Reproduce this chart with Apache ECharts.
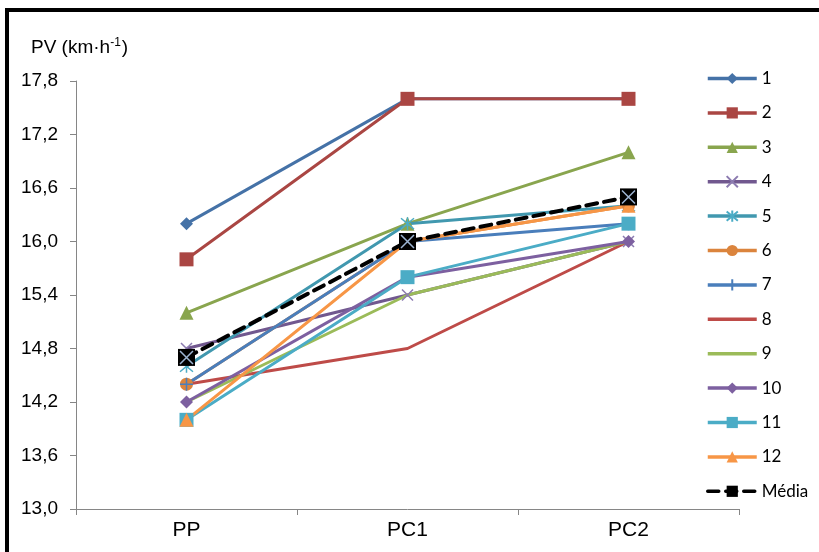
<!DOCTYPE html>
<html>
<head>
<meta charset="utf-8">
<script src="https://cdn.jsdelivr.net/npm/echarts@6/dist/echarts.min.js"></script>
<style>
html,body{margin:0;padding:0;background:#fff;}
#wrap{position:relative;width:819px;height:552px;overflow:hidden;}
#chart{position:absolute;left:0;top:0;width:819px;height:552px;}
#frame{position:absolute;left:5px;top:8px;width:900px;height:700px;border-left:4px solid #000;border-top:4px solid #000;pointer-events:none;}
</style>
</head>
<body>
<div id="wrap"><div id="chart"></div><div id="frame"></div></div>
<script>
const categories = ['PP', 'PC1', 'PC2'];
const yTicks = [13.0, 13.6, 14.2, 14.8, 15.4, 16.0, 16.6, 17.2, 17.8];

const s1 = [16.2, 17.6, 17.6];
const s2 = [15.8, 17.6, 17.6];
const s3 = [15.2, 16.2, 17.0];
const s4 = [14.8, 15.4, 16.0];
const s5 = [14.6, 16.2, 16.4];
const s6 = [14.4, 16.0, 16.4];
const s7 = [14.4, 16.0, 16.2];
const s8 = [14.4, 14.8, 16.0];
const s9 = [14.2, 15.4, 16.0];
const s10 = [14.2, 15.6, 16.0];
const s11 = [14.0, 15.6, 16.2];
const s12 = [14.0, 16.0, 16.4];
const media = [14.7, 16.0, 16.5];

const names = ['1','2','3','4','5','6','7','8','9','10','11','12'];
const values = [s1,s2,s3,s4,s5,s6,s7,s8,s9,s10,s11,s12];
const colors = ['#4572A7','#AA4643','#89A54E','#71588F','#4198AF','#DB843D','#4A7EBB','#BE4B48','#9BBB59','#7D60A0','#4BACC6','#F79646'];
const X = 'path://M0,0L10,10M10,0L0,10';
const STAR = 'path://M0,0L10,10M10,0L0,10M5,-1L5,11';
const PLUS = 'path://M5,0L5,10M0,5L10,5';
const symbols = ['diamond','rect','triangle',X,STAR,'circle',PLUS,'circle','circle','diamond','rect','triangle'];
const sizes = [13,14,14,11,13,13,13,1,1,13,14,14];
const strokeOnly = [false,false,false,true,true,false,true,false,false,false,false,false];
const hidden = [false,false,false,false,false,false,false,true,true,false,false,false];
const markerColors = ['#4572A7','#AA4643','#89A54E','#8C7BB0','#4BACC6','#DB843D','#4A7EBB','#BE4B48','#9BBB59','#7D60A0','#4BACC6','#F79646'];

const series = values.map((v, i) => ({
  name: names[i],
  type: 'line',
  data: v,
  symbol: symbols[i],
  symbolSize: sizes[i],
  lineStyle: { color: colors[i], width: 3 },
  itemStyle: strokeOnly[i]
    ? { color: markerColors[i], borderColor: markerColors[i], borderWidth: 1.5 }
    : { color: markerColors[i], borderWidth: 0, opacity: hidden[i] ? 0 : 1 },
  emphasis: { disabled: true },
  animation: false
}));

series.push({
  name: 'Média',
  type: 'line',
  data: media,
  symbol: 'rect',
  symbolSize: 17,
  lineStyle: { color: '#000', width: 4, type: [11, 7], cap: 'round' },
  itemStyle: { color: '#000', borderWidth: 0 },
  emphasis: { disabled: true },
  animation: false
});
series.push({
  name: 'MédiaX',
  type: 'line',
  data: media,
  symbol: X,
  symbolSize: 13,
  lineStyle: { opacity: 0 },
  itemStyle: { color: '#9DB5D3', borderColor: '#9DB5D3', borderWidth: 1.5 },
  emphasis: { disabled: true },
  animation: false
});

const chart = echarts.init(document.getElementById('chart'));
chart.setOption({
  animation: false,
  backgroundColor: '#fff',
  title: {
    text: '{a|PV (km·h}{s|-1}{a|)}',
    left: 26, top: 32,
    textStyle: {
      fontWeight: 'normal',
      rich: {
        a: { fontFamily: 'Liberation Sans', fontSize: 19, fontWeight: 'normal', color: '#000', lineHeight: 22 },
        s: { fontFamily: 'Liberation Sans', fontSize: 12, fontWeight: 'normal', color: '#000', verticalAlign: 'top', lineHeight: 22, padding: [0, 1, 8, 0] }
      }
    }
  },
  grid: { left: 76, right: 80, top: 81, bottom: 43, containLabel: false },
  legend: {
    data: names.concat(['Média']),
    orient: 'vertical',
    left: 701, top: 65,
    itemWidth: 49, itemHeight: 14, itemGap: 17.4,
    lineStyle: { width: 3.5 },
    textStyle: { fontFamily: 'Lato', fontSize: 17, color: '#000' },
    selectedMode: false
  },
  xAxis: {
    type: 'category',
    data: categories,
    boundaryGap: true,
    axisLine: { lineStyle: { color: '#868686', width: 1 } },
    axisTick: { show: true, alignWithLabel: false, length: 6, lineStyle: { color: '#868686' } },
    axisLabel: { color: '#000', fontFamily: 'Liberation Sans', fontSize: 21, margin: 11 },
    splitLine: { show: false }
  },
  yAxis: {
    type: 'value',
    min: 13.0, max: 17.8,
    axisLine: { show: true, lineStyle: { color: '#868686', width: 1 } },
    axisTick: { show: true, length: 6, lineStyle: { color: '#868686' }, customValues: yTicks },
    axisLabel: { color: '#000', fontFamily: 'Liberation Sans', fontSize: 19, margin: 18,
      customValues: yTicks,
      formatter: v => v.toFixed(1).replace('.', ',') },
    splitLine: { show: false }
  },
  series: series
});
</script>
</body>
</html>
